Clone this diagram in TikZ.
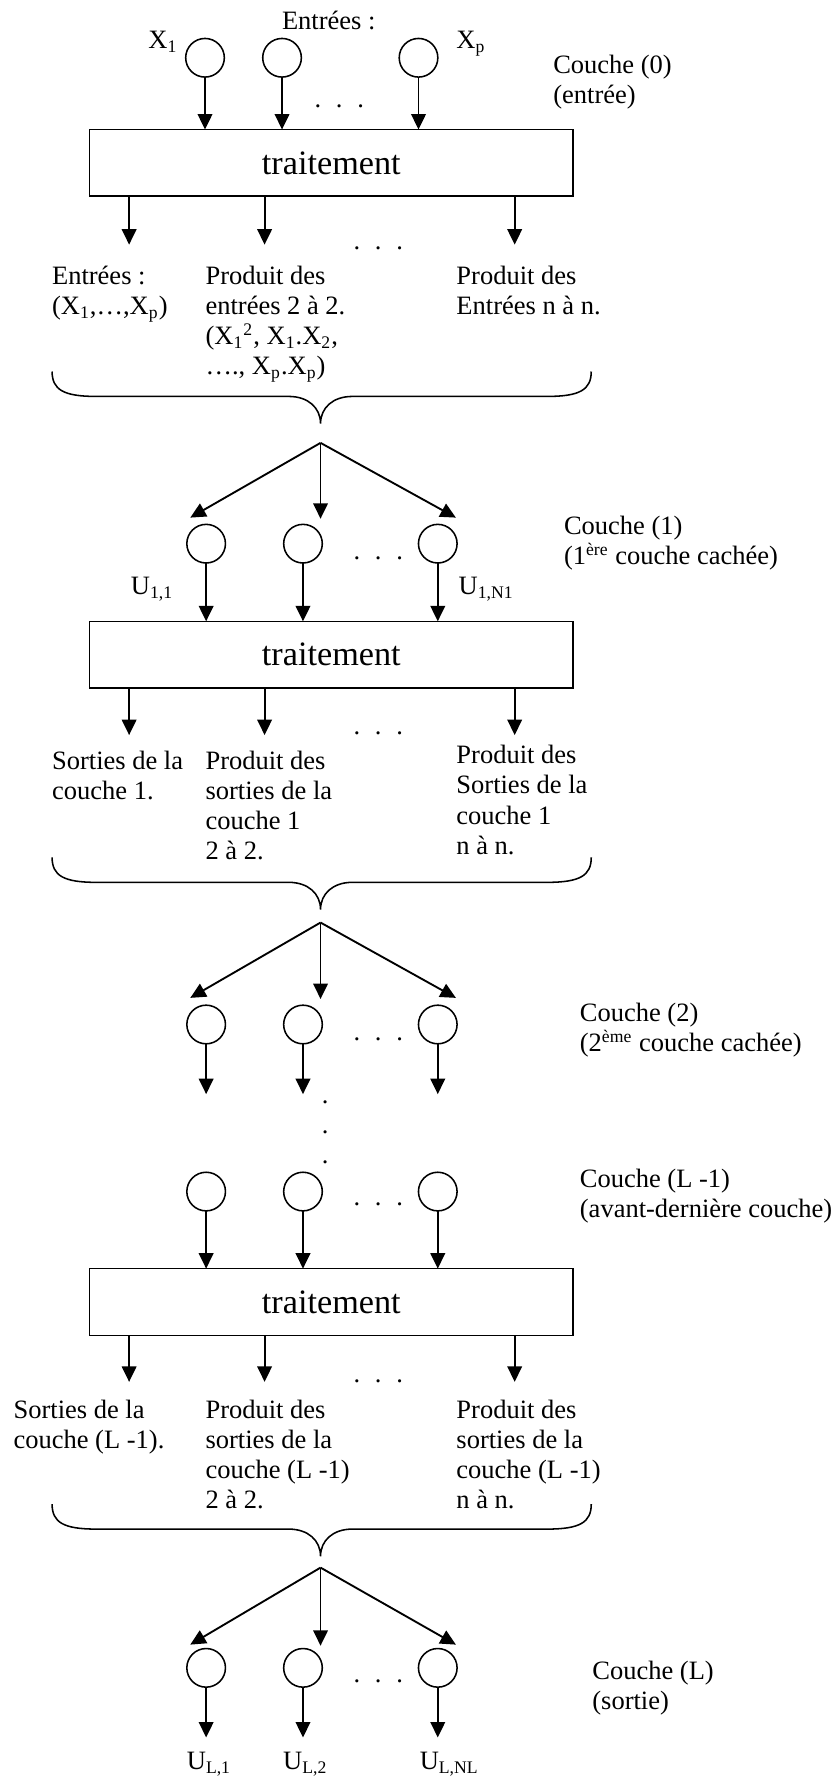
\documentclass[tikz,border=0pt]{standalone}
\usepackage{fontspec}
\setmainfont{Liberation Serif}
\usetikzlibrary{arrows.meta}
\newcommand{\troispoints}{.\hspace{6.7pt}.\hspace{6.7pt}.}

\begin{document}
\begin{tikzpicture}[x=0.513pt,y=-0.513pt]
        \tikzstyle{every node}+=[inner sep=0pt,outer sep=0pt]
        \tikzstyle{texte}=[anchor=base west,align=left,font=\fontsize{12}{13.6}\selectfont]
        \tikzstyle{points}=[anchor=base,align=center,font=\fontsize{12}{13.6}\selectfont]
        \tikzstyle{neurone}=[draw,circle,line width=0.7pt,minimum size=17.5pt]
        \tikzstyle{traitbox}=[draw,rectangle,line width=0.65pt,minimum width=219pt,minimum height=30.2pt,font=\fontsize{15.5}{18}\selectfont]
        \tikzstyle{fleche}=[line width=0.85pt,-{Triangle[length=7pt,width=6.6pt]}]
        \tikzstyle{accolade}=[line width=0.7pt]
        \useasboundingbox (0,0) rectangle (736,1568);
        % couche (0)
        \node [texte] (entrees) at (249,26) {Entrées :};
        \node [texte] (lx1) at (131,42.6) {X\textsubscript{1}};
        \node [texte] (lxp) at (403,42.6) {X\textsubscript{p}};
        \node [neurone] (c0a) at (181,51) {};
        \node [neurone] (c0b) at (249,51) {};
        \node [neurone] (c0c) at (369.5,51) {};
        \node [points] (d0) at (299.5,94.5) {\troispoints};
        \node [texte] (couche0) at (488.5,91.5) {Couche (0)\\(entrée)};
        \node [traitbox] (t0) at (292.5,143.8) {traitement};
        \draw [fleche] (c0a) -- (c0a |- t0.north);
        \draw [fleche] (c0b) -- (c0b |- t0.north);
        \draw [fleche] (c0c) -- (c0c |- t0.north);
        \coordinate (s0a) at (114,216);
        \coordinate (s0b) at (233.6,216);
        \coordinate (s0c) at (454.4,216);
        \draw [fleche] (s0a |- t0.south) -- (s0a);
        \draw [fleche] (s0b |- t0.south) -- (s0b);
        \draw [fleche] (s0c |- t0.south) -- (s0c);
        \node [points] (d0s) at (334,220.5) {\troispoints};
        \node [texte] (e0a) at (46,278) {Entrées :\\(X\textsubscript{1},…,X\textsubscript{p})};
        \node [texte] (e0b) at (181.5,331) {Produit des\\entrées 2 à 2.\\(X\textsubscript{1}\textsuperscript{2}, X\textsubscript{1}.X\textsubscript{2},\\…., X\textsubscript{p}.X\textsubscript{p})};
        \node [texte] (e0c) at (403,278) {Produit des\\Entrées n à n.};
        \draw [accolade] (46,328) .. controls (46,344) and (56,350) .. (85,350) -- (255,350) .. controls (272,350) and (283,360) .. (283,374) .. controls (283,360) and (294,350) .. (311,350) -- (483,350) .. controls (512,350) and (522,344) .. (522,328);
        % couche (1)
        \coordinate (f1) at (283,391);
        \coordinate (f1a) at (168,457);
        \coordinate (f1b) at (283,458);
        \coordinate (f1c) at (402.5,457);
        \draw [fleche] (f1) -- (f1a);
        \draw [fleche] (f1) -- (f1b);
        \draw [fleche] (f1) -- (f1c);
        \node [neurone] (c1a) at (182,480) {};
        \node [neurone] (c1b) at (267.5,480) {};
        \node [neurone] (c1c) at (386.5,480) {};
        \node [points] (d1) at (334,494) {\troispoints};
        \node [texte] (couche1) at (498,498.5) {Couche (1)\\(1\textsuperscript{ère} couche cachée)};
        \node [texte] (u11) at (115.6,525) {U\textsubscript{1,1}};
        \node [texte] (u1n) at (405,525) {U\textsubscript{1,N1}};
        \node [traitbox] (t1) at (292.5,578) {traitement};
        \draw [fleche] (c1a) -- (c1a |- t1.north);
        \draw [fleche] (c1b) -- (c1b |- t1.north);
        \draw [fleche] (c1c) -- (c1c |- t1.north);
        \coordinate (s1a) at (114,649);
        \coordinate (s1b) at (233.6,649);
        \coordinate (s1c) at (454.4,649);
        \draw [fleche] (s1a |- t1.south) -- (s1a);
        \draw [fleche] (s1b |- t1.south) -- (s1b);
        \draw [fleche] (s1c |- t1.south) -- (s1c);
        \node [points] (d1s) at (334,648.5) {\troispoints};
        \node [texte] (e1a) at (46,706) {Sorties de la\\couche 1.};
        \node [texte] (e1b) at (181.5,759) {Produit des\\sorties de la\\couche 1\\2 à 2.};
        \node [texte] (e1c) at (403,754) {Produit des\\Sorties de la\\couche 1\\n à n.};
        \draw [accolade] (46,757) .. controls (46,773) and (56,779) .. (85,779) -- (255,779) .. controls (272,779) and (283,789) .. (283,803) .. controls (283,789) and (294,779) .. (311,779) -- (483,779) .. controls (512,779) and (522,773) .. (522,757);
        % couche (2)
        \coordinate (f2) at (283,814.5);
        \coordinate (f2a) at (168,881);
        \coordinate (f2b) at (283,882);
        \coordinate (f2c) at (402.5,881);
        \draw [fleche] (f2) -- (f2a);
        \draw [fleche] (f2) -- (f2b);
        \draw [fleche] (f2) -- (f2c);
        \node [neurone] (c2a) at (182,904.5) {};
        \node [neurone] (c2b) at (267.5,904.5) {};
        \node [neurone] (c2c) at (386.5,904.5) {};
        \node [points] (d2) at (334,918.5) {\troispoints};
        \node [texte] (couche2) at (512,928.5) {Couche (2)\\(2\textsuperscript{ème} couche cachée)};
        \coordinate (s2) at (0,966);
        \draw [fleche] (c2a) -- (c2a |- s2);
        \draw [fleche] (c2b) -- (c2b |- s2);
        \draw [fleche] (c2c) -- (c2c |- s2);
        \node [points] (dv) at (287,1027) {.\\.\\.};
        % couche (L-1)
        \node [neurone] (c3a) at (182,1052) {};
        \node [neurone] (c3b) at (267.5,1052) {};
        \node [neurone] (c3c) at (386.5,1052) {};
        \node [points] (d3) at (334,1064.5) {\troispoints};
        \node [texte] (couche3) at (512,1075) {Couche (L -1)\\(avant-dernière couche)};
        \node [traitbox] (t3) at (292.5,1149.5) {traitement};
        \draw [fleche] (c3a) -- (c3a |- t3.north);
        \draw [fleche] (c3b) -- (c3b |- t3.north);
        \draw [fleche] (c3c) -- (c3c |- t3.north);
        \coordinate (s3a) at (114,1220);
        \coordinate (s3b) at (233.6,1220);
        \coordinate (s3c) at (454.4,1220);
        \draw [fleche] (s3a |- t3.south) -- (s3a);
        \draw [fleche] (s3b |- t3.south) -- (s3b);
        \draw [fleche] (s3c |- t3.south) -- (s3c);
        \node [points] (d3s) at (334,1221) {\troispoints};
        \node [texte] (e3a) at (12,1278.5) {Sorties de la\\couche (L -1).};
        \node [texte] (e3b) at (181.5,1331.5) {Produit des\\sorties de la\\couche (L -1)\\2 à 2.};
        \node [texte] (e3c) at (403,1331.5) {Produit des\\sorties de la\\couche (L -1)\\n à n.};
        \draw [accolade] (46,1328) .. controls (46,1344) and (56,1350) .. (85,1350) -- (255,1350) .. controls (272,1350) and (283,1360) .. (283,1374) .. controls (283,1360) and (294,1350) .. (311,1350) -- (483,1350) .. controls (512,1350) and (522,1344) .. (522,1328);
        % couche (L)
        \coordinate (f4) at (283,1384);
        \coordinate (f4a) at (168,1452);
        \coordinate (f4b) at (283,1453);
        \coordinate (f4c) at (402.5,1452);
        \draw [fleche] (f4) -- (f4a);
        \draw [fleche] (f4) -- (f4b);
        \draw [fleche] (f4) -- (f4c);
        \node [neurone] (c4a) at (182,1472.5) {};
        \node [neurone] (c4b) at (267.5,1472.5) {};
        \node [neurone] (c4c) at (386.5,1472.5) {};
        \node [points] (d4) at (334,1485.5) {\troispoints};
        \node [texte] (couche4) at (523,1509) {Couche (L)\\(sortie)};
        \coordinate (s4) at (0,1534);
        \draw [fleche] (c4a) -- (c4a |- s4);
        \draw [fleche] (c4b) -- (c4b |- s4);
        \draw [fleche] (c4c) -- (c4c |- s4);
        \node [texte] (ul1) at (165,1562) {U\textsubscript{L,1}};
        \node [texte] (ul2) at (250,1562) {U\textsubscript{L,2}};
        \node [texte] (uln) at (370.6,1562) {U\textsubscript{L,NL}};
\end{tikzpicture}
\end{document}
